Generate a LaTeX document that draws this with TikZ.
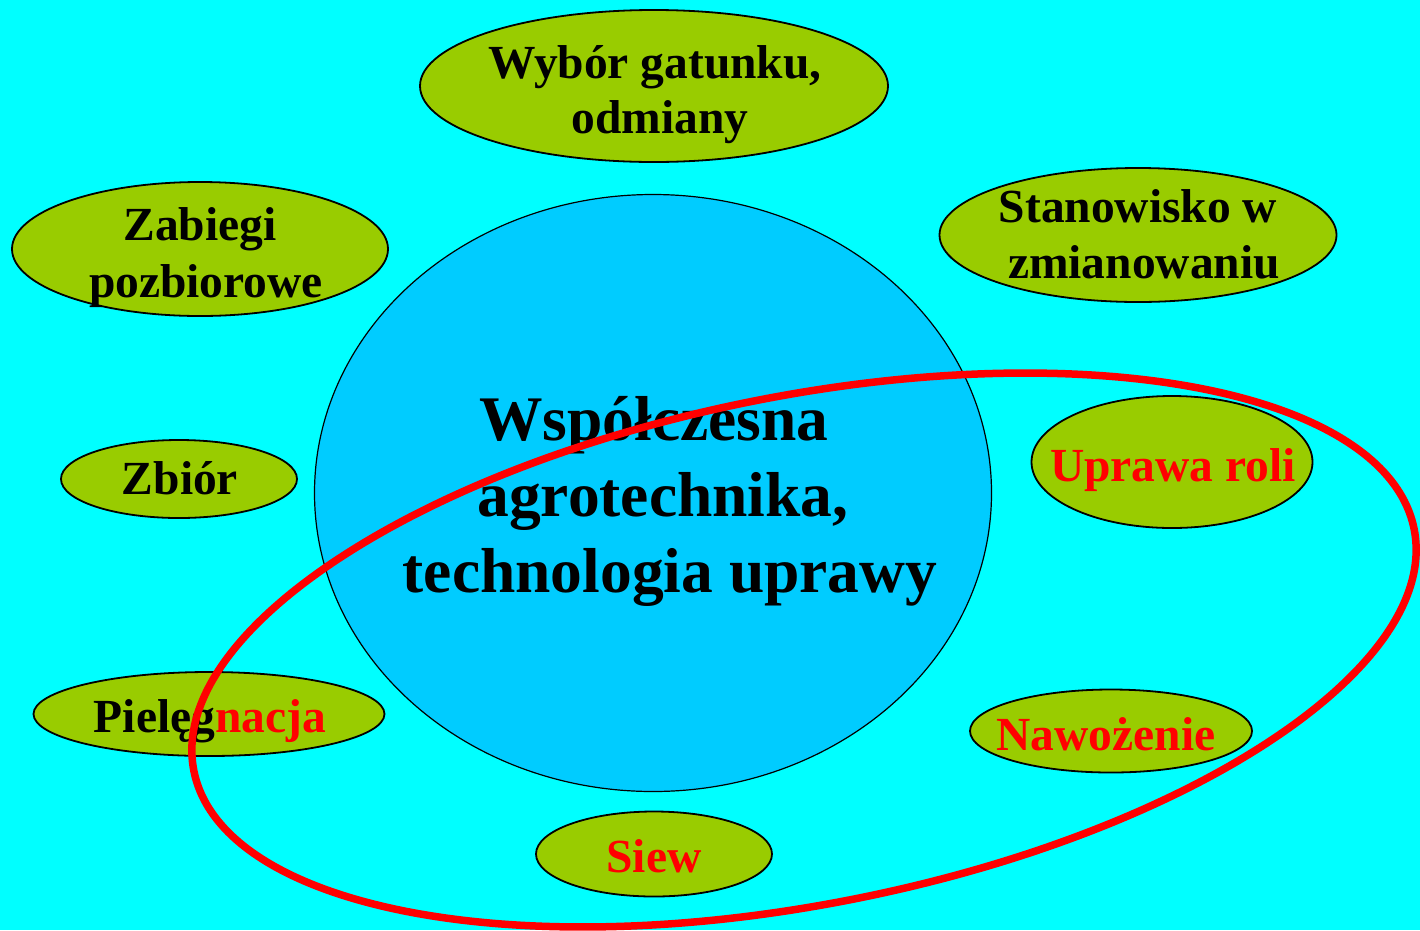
\documentclass[tikz,border=0pt]{standalone}
\usepackage{fontspec}
\setmainfont{Liberation Serif}
\usetikzlibrary{shapes.geometric}
\definecolor{bgcyan}{HTML}{00FFFF}
\definecolor{olive}{HTML}{99CC00}
\definecolor{sky}{HTML}{00CCFF}
\definecolor{redline}{HTML}{FF0000}
\tikzset{
  oval/.style={ellipse, draw=black, line width=1.8pt, fill=olive, inner sep=0pt},
  bigoval/.style={ellipse, draw=black, line width=1.2pt, fill=sky, inner sep=0pt},
  lbl/.style={anchor=base, inner sep=0pt, font=\bfseries\fontsize{47.5}{58}\selectfont},
  biglbl/.style={anchor=base, inner sep=0pt, font=\bfseries\fontsize{63.5}{76}\selectfont},
  loop/.style={draw=redline, line width=7.5pt}
}
\begin{document}
\begin{tikzpicture}[x=1pt,y=-1pt]
\useasboundingbox (0,0) rectangle (1420,930);
\fill[bgcyan] (0,0) rectangle (1420,930);
% central circle
\node[bigoval, minimum width=677pt, minimum height=597pt] (center) at (653,493) {};
% ellipses
\node[oval, minimum width=468pt, minimum height=152pt] (wybor) at (654,86) {};
\node[oval, minimum width=376pt, minimum height=134pt] (zabiegi) at (200,249) {};
\node[oval, minimum width=397pt, minimum height=134pt] (stan) at (1138,235) {};
\node[oval, minimum width=236pt, minimum height=78pt] (zbior) at (179,479) {};
\node[oval, minimum width=281pt, minimum height=132pt] (uprawa) at (1172,462) {};
\node[oval, minimum width=351pt, minimum height=84pt] (piel) at (209,714) {};
\node[oval, minimum width=282pt, minimum height=83pt] (nawoz) at (1111,731) {};
\node[oval, minimum width=236pt, minimum height=85pt] (siew) at (654,854) {};
% labels
\node[lbl] (wyborA) at (655,78) {Wybór gatunku,};
\node[lbl] (wyborB) at (660,133) {odmiany};
\node[lbl] (zabA) at (200,240) {Zabiegi};
\node[lbl] (zabB) at (206,297) {pozbiorowe};
\node[lbl] (stanA) at (1138,222) {Stanowisko w};
\node[lbl] (stanB) at (1144,278) {zmianowaniu};
\node[lbl] (zbiorT) at (180,494) {Zbiór};
\node[lbl, text=redline] (uprT) at (1173,481) {Uprawa roli};
\node[lbl] (pielT) at (210,732) {Pielęg\textcolor{redline}{nacja}};
\node[lbl, text=redline] (nawT) at (1106,750) {Nawożenie};
\node[lbl, text=redline] (siewT) at (654,872) {Siew};
\node[biglbl] (cA) at (654,440) {Współczesna};
\node[biglbl] (cB) at (663,516) {agrotechnika,};
\node[biglbl] (cC) at (670,592) {technologia uprawy};
% red loop
\draw[loop, rotate around={11.2:(804,650)}] (804,650) ellipse [x radius=622pt, y radius=254pt];
\end{tikzpicture}
\end{document}
